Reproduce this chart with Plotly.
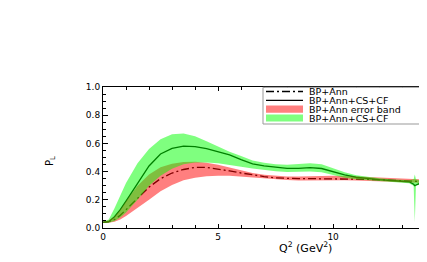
import plotly.graph_objects as go

# ---- data ----
q2 = [0, 0.25, 0.5, 0.75, 1.0, 1.5, 2.0, 2.5, 3.0, 3.5, 4.0, 4.5, 5.0, 5.5, 6.0, 6.5,
      7.0, 7.5, 8.0, 8.5, 9.0, 9.5, 10.0, 10.5, 11.0, 11.5, 12.0, 12.5, 13.0, 13.3,
      13.5, 13.55, 13.6, 13.8, 14.1]

bp_ann = [0.04, 0.045, 0.06, 0.09, 0.13, 0.21, 0.29, 0.35, 0.39, 0.415, 0.43, 0.43, 0.42, 0.405,
          0.39, 0.375, 0.365, 0.355, 0.35, 0.35, 0.35, 0.35, 0.35, 0.35, 0.348, 0.345, 0.342,
          0.338, 0.335, 0.334, 0.333, 0.333, 0.332, 0.331, 0.328]

bp_ann_cs_cf = [0.04, 0.045, 0.08, 0.13, 0.19, 0.32, 0.44, 0.525, 0.565, 0.58, 0.577, 0.563,
                0.543, 0.518, 0.485, 0.455, 0.44, 0.43, 0.423, 0.423, 0.428, 0.422, 0.4, 0.376,
                0.36, 0.35, 0.343, 0.337, 0.332, 0.328, 0.31, 0.30, 0.305, 0.318, 0.325]

red_upper = [0.045, 0.055, 0.08, 0.13, 0.19, 0.3, 0.38, 0.43, 0.455, 0.468, 0.47, 0.462, 0.448,
             0.43, 0.41, 0.39, 0.378, 0.37, 0.366, 0.366, 0.368, 0.37, 0.37, 0.368, 0.365, 0.362,
             0.36, 0.357, 0.354, 0.352, 0.35, 0.35, 0.349, 0.347, 0.343]
red_lower = [0.035, 0.037, 0.045, 0.06, 0.085, 0.14, 0.2, 0.26, 0.305, 0.338, 0.357, 0.367, 0.37,
             0.37, 0.365, 0.36, 0.352, 0.346, 0.34, 0.337, 0.336, 0.336, 0.337, 0.338, 0.337,
             0.335, 0.332, 0.328, 0.325, 0.324, 0.323, 0.322, 0.322, 0.321, 0.318]

green_upper = [0.045, 0.06, 0.14, 0.23, 0.32, 0.46, 0.56, 0.63, 0.665, 0.67, 0.65, 0.615, 0.575,
               0.54, 0.51, 0.478, 0.462, 0.452, 0.448, 0.452, 0.46, 0.452, 0.425, 0.395, 0.375,
               0.362, 0.353, 0.346, 0.34, 0.338, 0.345, 0.38, 0.345, 0.335, 0.332]
green_lower = [0.035, 0.037, 0.05, 0.075, 0.11, 0.2, 0.3, 0.37, 0.42, 0.452, 0.465, 0.465, 0.46,
               0.45, 0.435, 0.422, 0.41, 0.402, 0.398, 0.398, 0.40, 0.395, 0.375, 0.357, 0.345,
               0.338, 0.333, 0.328, 0.322, 0.318, 0.30, 0.04, 0.30, 0.31, 0.315]

legend_labels = ["BP+Ann", "BP+Ann+CS+CF", "BP+Ann error band", "BP+Ann+CS+CF"]
x_tick_vals = [0, 5, 10]
y_tick_vals = [0.0, 0.2, 0.4, 0.6, 0.8, 1.0]
y_tick_text = ["0.0", "0.2", "0.4", "0.6", "0.8", "1.0"]

RED_FILL = "rgba(255,0,0,0.5)"
GREEN_FILL = "rgba(0,255,0,0.5)"
FONT = "DejaVu Sans, Liberation Sans, sans-serif"
DASHDOT = "8px,3px,2px,3px"

fig = go.Figure()
fig.add_trace(go.Scatter(x=q2, y=bp_ann, mode="lines", name=legend_labels[0],
                         line=dict(color="black", width=1.3, dash=DASHDOT)))
fig.add_trace(go.Scatter(x=q2, y=bp_ann_cs_cf, mode="lines", name=legend_labels[1],
                         line=dict(color="black", width=1.3)))
fig.add_trace(go.Scatter(x=q2 + q2[::-1], y=red_upper + red_lower[::-1], mode="lines",
                         fill="toself", fillcolor=RED_FILL, line=dict(width=0),
                         name=legend_labels[2], hoverinfo="skip"))
fig.add_trace(go.Scatter(x=q2 + q2[::-1], y=green_upper + green_lower[::-1], mode="lines",
                         fill="toself", fillcolor=GREEN_FILL, line=dict(width=0),
                         name=legend_labels[3], hoverinfo="skip"))

# page body has an 8px margin on every side; layout is expressed in screen pixels
OFF = 8
W, H = 427 - OFF, 262 - 2 * OFF
L, R, T, B = 103, 427, 87, 228   # plot area in screen pixels


def px(x):
    return (x - L) / (R - L)


def py(y):
    return (B - y) / (B - T)


shapes = [dict(type="rect", xref="paper", yref="paper", x0=px(263), x1=px(445),
               y0=py(124), y1=py(87.3), fillcolor="white",
               line=dict(color="#999999", width=1), layer="above")]
rows = [91.5, 100.3, 109.2, 118]
shapes.append(dict(type="line", xref="paper", yref="paper", x0=px(266), x1=px(303),
                   y0=py(rows[0]), y1=py(rows[0]), layer="above",
                   line=dict(color="black", width=1.3, dash=DASHDOT)))
shapes.append(dict(type="line", xref="paper", yref="paper", x0=px(266), x1=px(303),
                   y0=py(rows[1]), y1=py(rows[1]), layer="above",
                   line=dict(color="black", width=1.3)))
for r, c in [(rows[2], RED_FILL), (rows[3], GREEN_FILL)]:
    shapes.append(dict(type="rect", xref="paper", yref="paper", x0=px(266), x1=px(303),
                       y0=py(r + 3.6), y1=py(r - 3.6), fillcolor=c, line=dict(width=0),
                       layer="above"))

annotations = []
for r, lab in zip(rows, legend_labels):
    annotations.append(dict(xref="paper", yref="paper", x=px(307), y=py(r), text=lab,
                             showarrow=False, xanchor="left", yanchor="middle",
                             font=dict(family=FONT, size=9.5, color="black")))
annotations.append(dict(xref="paper", yref="paper", x=px(305), y=py(247),
                         text="Q<sup>2</sup> (GeV<sup>2</sup>)", showarrow=False,
                         xanchor="center", yanchor="middle",
                         font=dict(family=FONT, size=11, color="black")))
annotations.append(dict(xref="paper", yref="paper", x=px(50), y=py(161),
                         text="P<sub>L</sub>", showarrow=False, textangle=-90,
                         xanchor="center", yanchor="middle",
                         font=dict(family=FONT, size=10, color="black")))

fig.update_layout(
    width=W, height=H,
    margin=dict(l=L - OFF, r=0, t=T - OFF, b=H - (B - OFF), pad=0),
    paper_bgcolor="white", plot_bgcolor="white",
    showlegend=False,
    shapes=shapes, annotations=annotations,
    font=dict(family=FONT, size=9, color="black"),
)
fig.update_xaxes(range=[0, 14.08], showgrid=False, zeroline=False,
                 showline=True, linecolor="black", linewidth=1, mirror="ticks",
                 ticks="inside", ticklen=4, tickcolor="black",
                 tickvals=x_tick_vals, ticktext=[str(v) for v in x_tick_vals],
                 minor=dict(dtick=1, ticks="inside", ticklen=3, tickcolor="black", showgrid=False),
                 tickfont=dict(family=FONT, size=9, color="black"))
fig.update_yaxes(range=[0, 1.0], showgrid=False, zeroline=False,
                 showline=True, linecolor="black", linewidth=1, mirror=False,
                 ticks="inside", ticklen=5, tickcolor="black",
                 tickvals=y_tick_vals, ticktext=y_tick_text,
                 minor=dict(dtick=0.05, ticks="inside", ticklen=3, tickcolor="black", showgrid=False),
                 tickfont=dict(family=FONT, size=9, color="black"))

fig.write_html("out.html")
